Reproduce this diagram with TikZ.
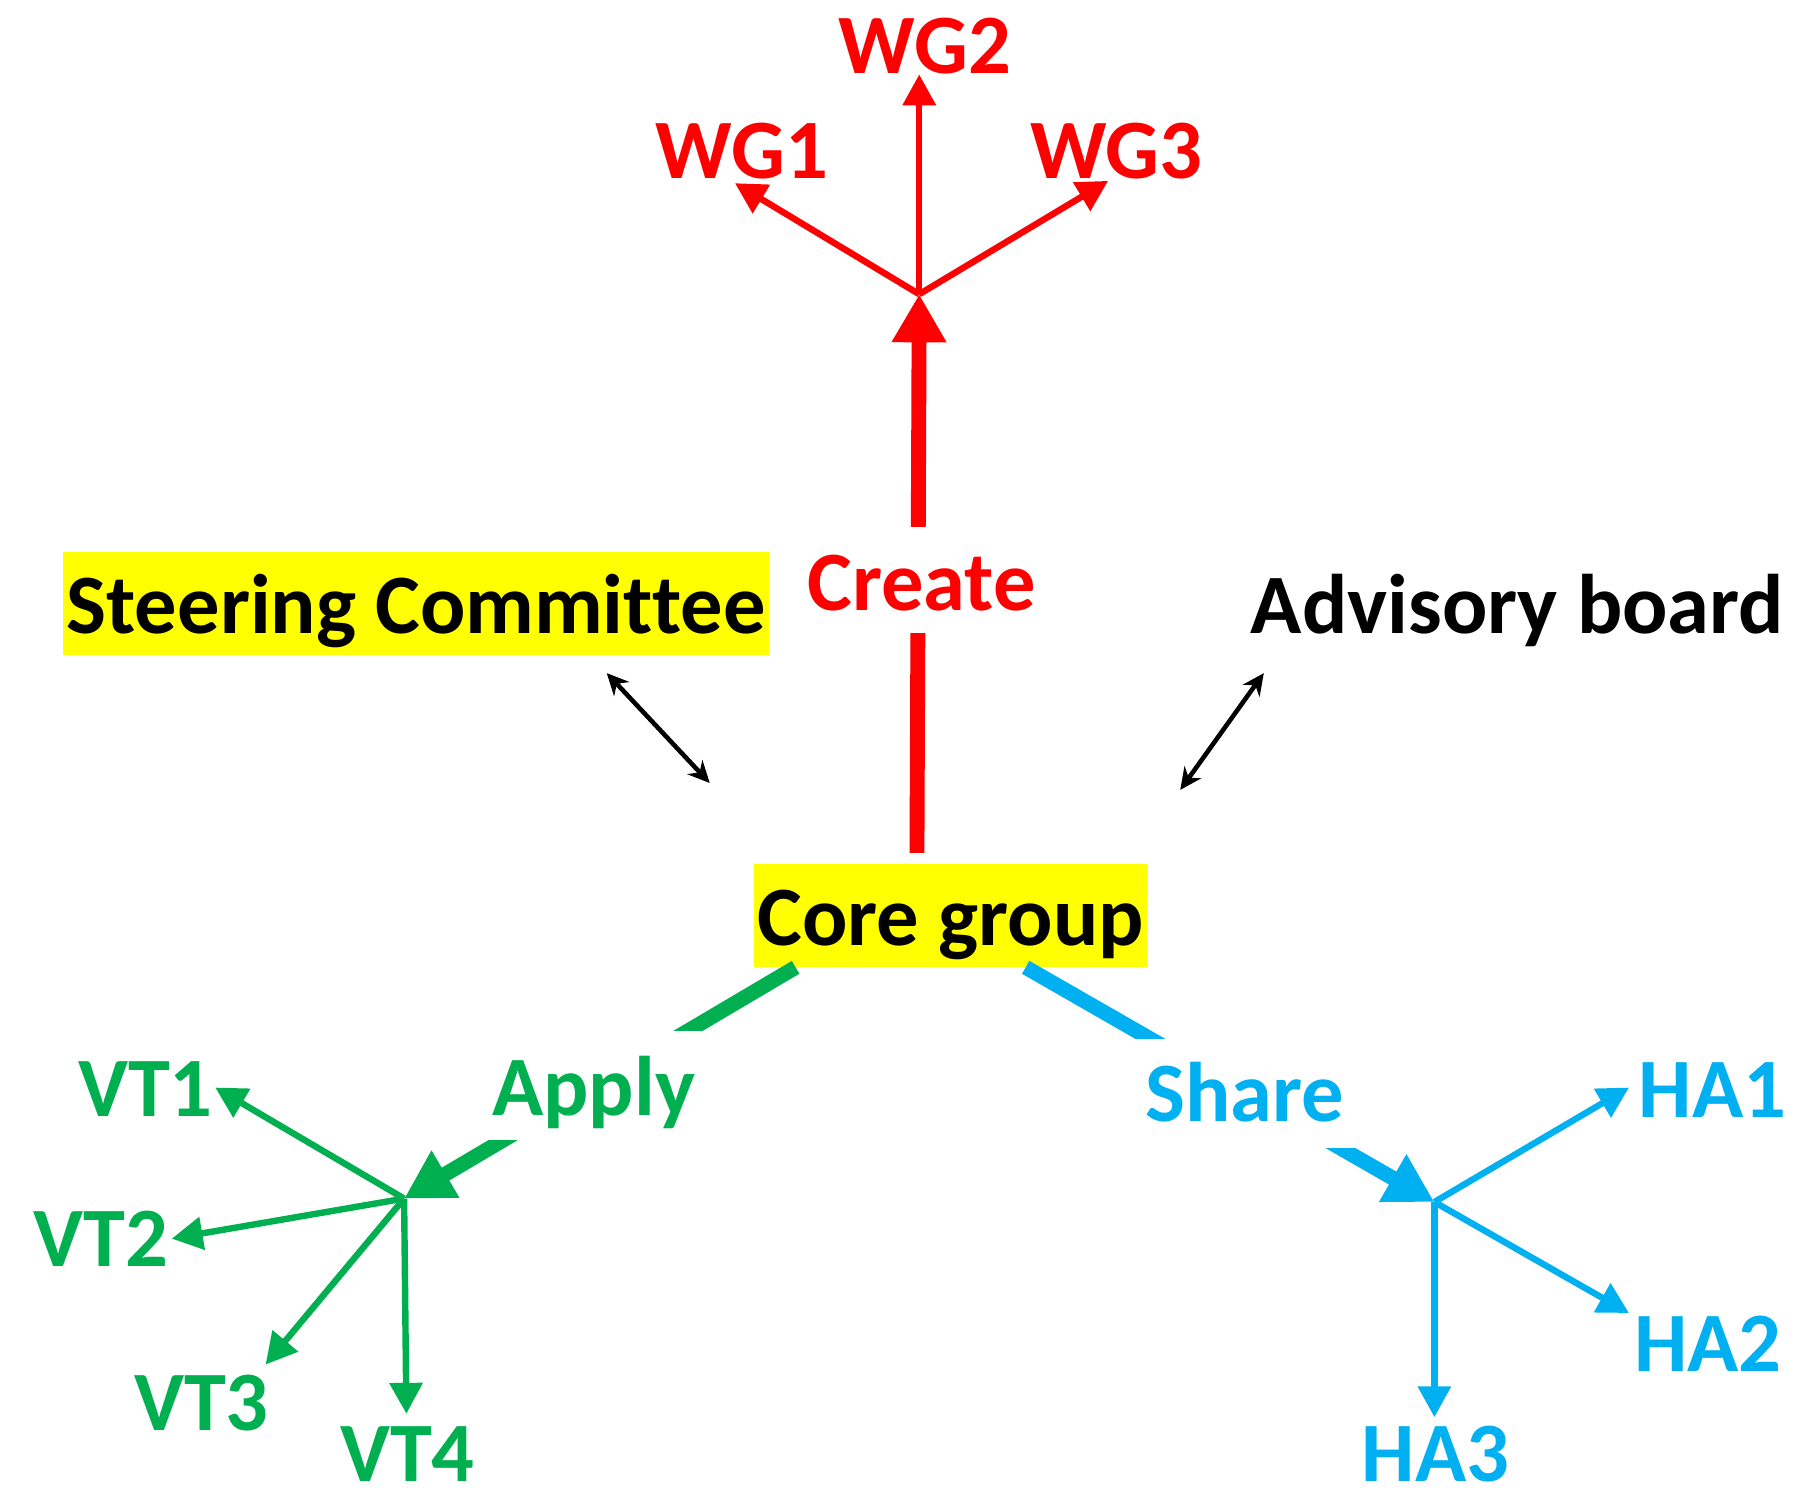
\documentclass[tikz,border=0pt]{standalone}
\usepackage{fontspec}
\setmainfont{Carlito}[Ligatures=NoCommon]
\usetikzlibrary{arrows.meta,calc}
\definecolor{cred}{HTML}{FF0000}
\definecolor{cgreen}{HTML}{00B050}
\definecolor{cblue}{HTML}{00B0F0}
\definecolor{cyel}{HTML}{FFFF00}
\begin{document}
\begin{tikzpicture}[x=0.01cm,y=-0.01cm,
  lbl/.style={font=\fontsize{21}{25}\selectfont\bfseries, inner sep=0pt},
  boxlbl/.style={lbl, fill=cyel, text height=0.71cm, text depth=0.19cm, inner xsep=0.03cm},
  cutlbl/.style={lbl, fill=white, text height=0.74cm, text depth=0.21cm, inner xsep=0.08cm},
  thickarrow/.style={line width=0.13cm, -{Triangle[length=0.42cm,width=0.45cm]}},
  thinarrow/.style={line width=0.056cm, -{Triangle[length=0.27cm,width=0.28cm]}},
  dblarrow/.style={line width=0.04cm, {Stealth[length=0.19cm,width=0.18cm]}-{Stealth[length=0.19cm,width=0.18cm]}},
]
\useasboundingbox (0,0) rectangle (1568,1303);

% boxes and labels
\node[boxlbl] (steer) at (363.5,527) {Steering Committee};
\node[boxlbl] (core) at (830.5,799.5) {Core group};
\node[lbl, text height=0.71cm, text depth=0.19cm] (adv) at (1325.5,527) {Advisory board};

\node[lbl, text=cred] (wg1) at (648,132) {WG1};
\node[lbl, text=cred] (wg2) at (808,40) {WG2};
\node[lbl, text=cred] (wg3) at (975,132) {WG3};

\node[lbl, text=cgreen] (vt1) at (127,951) {VT1};
\node[lbl, text=cgreen] (vt2) at (88,1082) {VT2};
\node[lbl, text=cgreen] (vt3) at (176,1226) {VT3};
\node[lbl, text=cgreen] (vt4) at (356,1270) {VT4};

\node[lbl, text=cblue] (ha1) at (1496,952) {HA1};
\node[lbl, text=cblue] (ha2) at (1492,1174) {HA2};
\node[lbl, text=cblue] (ha3) at (1254,1270) {HA3};

% junctions and tips
\coordinate (jr) at (803,257);
\coordinate (jg) at (353,1047);
\coordinate (jb) at (1253,1050);
\coordinate (rstart) at (801,745);
\coordinate (gstart) at (695,845);
\coordinate (bstart) at (896,845);

\coordinate (wg1t) at (642,160);
\coordinate (wg2t) at (803,65);
\coordinate (wg3t) at (968,158);
\coordinate (vt1t) at (188,950);
\coordinate (vt2t) at (150,1082);
\coordinate (vt3t) at (232,1192);
\coordinate (vt4t) at (355,1235);
\coordinate (ha1t) at (1423,950);
\coordinate (ha2t) at (1423,1147);
\coordinate (ha3t) at (1253,1238);

\coordinate (s1) at (530,588);
\coordinate (s2) at (620,684);
\coordinate (a1) at (1104,588);
\coordinate (a2) at (1031,690);

% thick arrows
\draw[thickarrow, cred] (rstart) -- (jr);
\draw[thickarrow, cgreen] (gstart) -- (jg);
\draw[thickarrow, cblue] (bstart) -- (jb);

% labels on thick arrows
\node[cutlbl, text=cred, inner xsep=0.04cm, text height=0.73cm, text depth=0.2cm] (create) at (805,506.5) {Create};
\node[cutlbl, text=cgreen, inner xsep=0.06cm] (apply) at (518.5,948) {Apply};
\node[cutlbl, text=cblue, inner xsep=0.1cm, text height=0.72cm, text depth=0.23cm] (share) at (1087.5,955.5) {Share};

% thin arrows
\draw[thinarrow, cred] (jr) -- (wg1t);
\draw[thinarrow, cred] (jr) -- (wg2t);
\draw[thinarrow, cred] (jr) -- (wg3t);

\draw[thinarrow, cgreen] (jg) -- (vt1t);
\draw[thinarrow, cgreen] (jg) -- (vt2t);
\draw[thinarrow, cgreen] (jg) -- (vt3t);
\draw[thinarrow, cgreen] (jg) -- (vt4t);

\draw[thinarrow, cblue] (jb) -- (ha1t);
\draw[thinarrow, cblue] (jb) -- (ha2t);
\draw[thinarrow, cblue] (jb) -- (ha3t);

% double arrows
\draw[dblarrow] (s1) -- (s2);
\draw[dblarrow] (a1) -- (a2);
\end{tikzpicture}
\end{document}
